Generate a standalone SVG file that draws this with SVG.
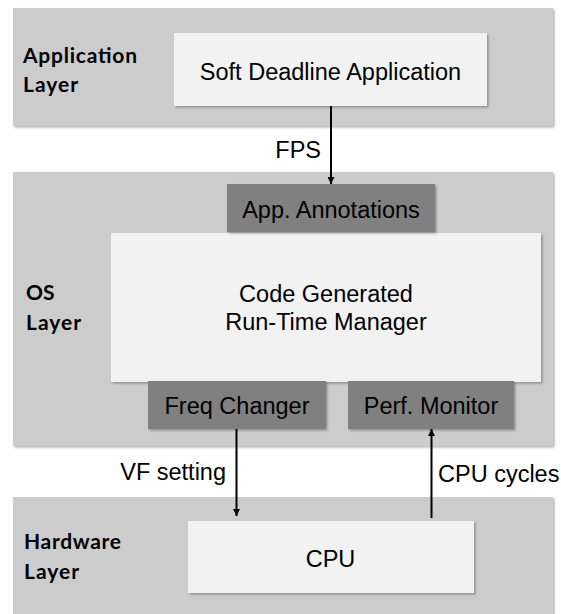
<svg xmlns="http://www.w3.org/2000/svg" width="561" height="614" viewBox="0 0 561 614">
  <defs>
    <filter id="shadow" x="-5%" y="-5%" width="112%" height="120%">
      <feDropShadow dx="1.5" dy="1.5" stdDeviation="1" flood-color="#000" flood-opacity="0.3"/>
    </filter>
    <marker id="head" viewBox="0 0 10 10" refX="10" refY="5" markerWidth="7" markerHeight="7" markerUnits="userSpaceOnUse" orient="auto">
      <path d="M0,0 L10,5 L0,10 Z" fill="#000"/>
    </marker>
  </defs>
  <style>
    .band { fill: #cccccc; filter: url(#shadow); }
    .light { fill: #f2f2f2; filter: url(#shadow); }
    .dark { fill: #808080; filter: url(#shadow); }
    .label { font-family: "Liberation Sans", Arial, sans-serif; font-size: 23.5px; fill: #000; text-anchor: middle; }
    .side { font-family: "Lato", "Open Sans", sans-serif; font-weight: bold; font-size: 21px; fill: #000; }
    .edge { font-family: "Liberation Sans", Arial, sans-serif; font-size: 23.5px; fill: #000; }
    .wire { stroke: #000; stroke-width: 2; fill: none; marker-end: url(#head); }
  </style>

  <!-- layer bands -->
  <g id="application-layer">
    <rect class="band" x="13" y="8" width="540" height="118"/>
    <text class="side" x="23" y="63" textLength="114">Application</text>
    <text class="side" x="23" y="92" textLength="55">Layer</text>
  </g>
  <g id="os-layer">
    <rect class="band" x="13" y="172" width="540" height="274"/>
    <text class="side" x="26" y="300">OS</text>
    <text class="side" x="26" y="330" textLength="55">Layer</text>
  </g>
  <g id="hardware-layer">
    <rect class="band" x="13" y="497" width="540" height="125"/>
    <text class="side" x="24" y="549" textLength="97">Hardware</text>
    <text class="side" x="24" y="579" textLength="55">Layer</text>
  </g>

  <!-- nodes -->
  <g id="soft-deadline-app">
    <rect class="light" x="174" y="33" width="313" height="73"/>
    <text class="label" x="330.5" y="80">Soft Deadline Application</text>
  </g>
  <g id="rtm">
    <rect class="light" x="111" y="233" width="430" height="149"/>
    <text class="label" x="326" y="302">Code Generated</text>
    <text class="label" x="326" y="330">Run-Time Manager</text>
  </g>
  <g id="app-annotations">
    <rect class="dark" x="227" y="184" width="208" height="48"/>
    <text class="label" x="331" y="218">App. Annotations</text>
  </g>
  <g id="freq-changer">
    <rect class="dark" x="148" y="381" width="178" height="48"/>
    <text class="label" x="237" y="414">Freq Changer</text>
  </g>
  <g id="perf-monitor">
    <rect class="dark" x="348" y="381" width="166" height="48"/>
    <text class="label" x="431" y="414">Perf. Monitor</text>
  </g>
  <g id="cpu">
    <rect class="light" x="188" y="521" width="286" height="72"/>
    <text class="label" x="330.5" y="567">CPU</text>
  </g>

  <!-- connectors -->
  <g id="connectors">
    <line class="wire" x1="331" y1="106" x2="331" y2="184"/>
    <text class="edge" x="321" y="158" text-anchor="end">FPS</text>
    <line class="wire" x1="236.5" y1="429" x2="236.5" y2="516"/>
    <text class="edge" x="226" y="480" text-anchor="end">VF setting</text>
    <line class="wire" x1="431.5" y1="518" x2="431.5" y2="429"/>
    <text class="edge" x="438" y="482">CPU cycles</text>
  </g>
</svg>
